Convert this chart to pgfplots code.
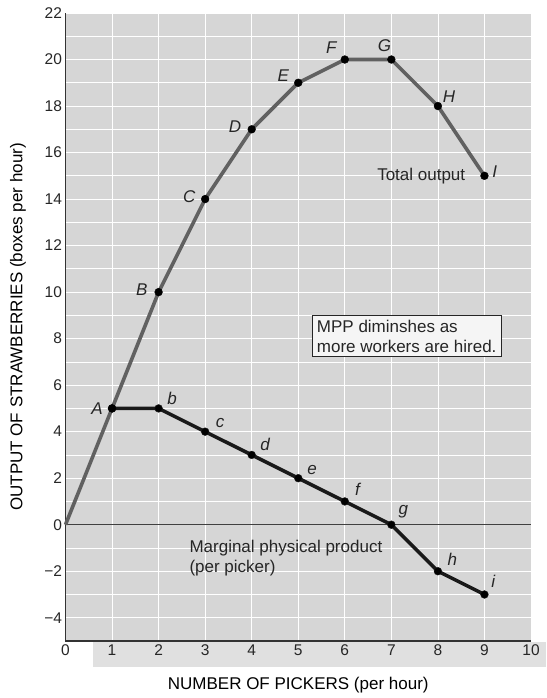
\documentclass[border=0pt]{standalone}
\usepackage{pgfplots}
\pgfplotsset{compat=1.18}
\usepackage{fontspec}
\setmainfont{Liberation Sans}
\begin{document}
\begin{tikzpicture}
\begin{axis}[
  name=ax,
  set layers,
  scale only axis,
  width=465.5pt, height=628pt,
  xmin=0, xmax=10, ymin=-5, ymax=22,
  axis lines=left,
  axis line style={-, line width=1.3pt, black!80},
  axis background/.style={fill=black!16},
  clip=false,
  xtick={0,...,10},
  ytick={-4,-2,...,22},
  yticklabels={−4,−2,0,2,4,6,8,10,12,14,16,18,20,22},
  minor ytick={-5,-3,...,21},
  grid=both,
  grid style={white, line width=0.7pt},
  minor grid style={white, line width=0.7pt},
  major tick length=0pt, minor tick length=0pt,
  tick style={draw=none},
  tick label style={font=\fontsize{15.5}{17}\selectfont, text=black!85},
  /pgf/number format/assume math mode=true,
  xlabel={NUMBER OF PICKERS (per hour)},
  ylabel={OUTPUT OF STRAWBERRIES (boxes per hour)},
  xlabel style={at={(axis description cs:0.5,-0.0701)}, anchor=center, font=\fontsize{17}{20}\selectfont},
  ylabel style={at={(axis description cs:-0.102,0.5)}, anchor=center, font=\fontsize{17}{20}\selectfont},
]
% page strip behind x tick labels
\pgfonlayer{axis background}
\fill[black!12] (axis cs:0.59,-5.05) rectangle (axis cs:10.33,-6.12);
\endpgfonlayer
% zero line
\addplot[black!75, line width=1.4pt] coordinates {(0,0) (10,0)};
% Marginal physical product
\addplot[black!90, line width=3.5pt, mark=*, mark size=3.9pt, mark options={fill=black, line width=0.4pt}]
  coordinates {(1,5) (2,5) (3,4) (4,3) (5,2) (6,1) (7,0) (8,-2) (9,-3)};
% Total output
\addplot[black!62, line width=3.6pt]
  coordinates {(0,0) (1,5) (2,10) (3,14) (4,17) (5,19) (6,20) (7,20) (8,18) (9,15)};
\addplot[only marks, mark=*, mark size=3.9pt, black, mark options={line width=0.4pt}]
  coordinates {(1,5) (2,10) (3,14) (4,17) (5,19) (6,20) (7,20) (8,18) (9,15)};
% point labels
\begin{scope}[every node/.style={font=\fontsize{17}{19}\selectfont\itshape, text=black!85}]
\node at (axis cs:0.68,5.0) {A};
\node at (axis cs:1.64,10.1) {B};
\node at (axis cs:2.66,14.1) {C};
\node at (axis cs:3.64,17.1) {D};
\node at (axis cs:4.68,19.3) {E};
\node at (axis cs:5.71,20.5) {F};
\node at (axis cs:6.85,20.6) {G};
\node at (axis cs:8.24,18.4) {H};
\node at (axis cs:9.22,15.2) {I};
\node at (axis cs:2.29,5.45) {b};
\node at (axis cs:3.32,4.38) {c};
\node at (axis cs:4.29,3.43) {d};
\node at (axis cs:5.30,2.36) {e};
\node at (axis cs:6.27,1.5) {f};
\node at (axis cs:7.26,0.56) {g};
\node at (axis cs:8.31,-1.5) {h};
\node at (axis cs:9.19,-2.45) {i};
\end{scope}
\node[anchor=east, inner sep=0pt, font=\fontsize{17}{20}\selectfont, text=black!85] at (axis cs:8.59,15.0) {Total output};
\node[anchor=west, inner sep=0pt, align=left, font=\fontsize{17}{20}\selectfont, text=black!85] at (axis cs:2.66,-1.42) {Marginal physical product\\(per picker)};
\node[draw=black!85, line width=0.9pt, fill=white!96!black, align=left, inner xsep=5pt, inner ysep=4pt,
      font=\fontsize{17}{20}\selectfont, text=black!85] at (axis cs:7.33,8.11) {MPP diminshes as\\more workers are hired.};
\end{axis}
\pgfresetboundingbox
\path[use as bounding box] ([shift={(-65.5pt,-57pt)}]ax.south west) rectangle ([shift={(15pt,13pt)}]ax.north east);
\end{tikzpicture}
\end{document}
